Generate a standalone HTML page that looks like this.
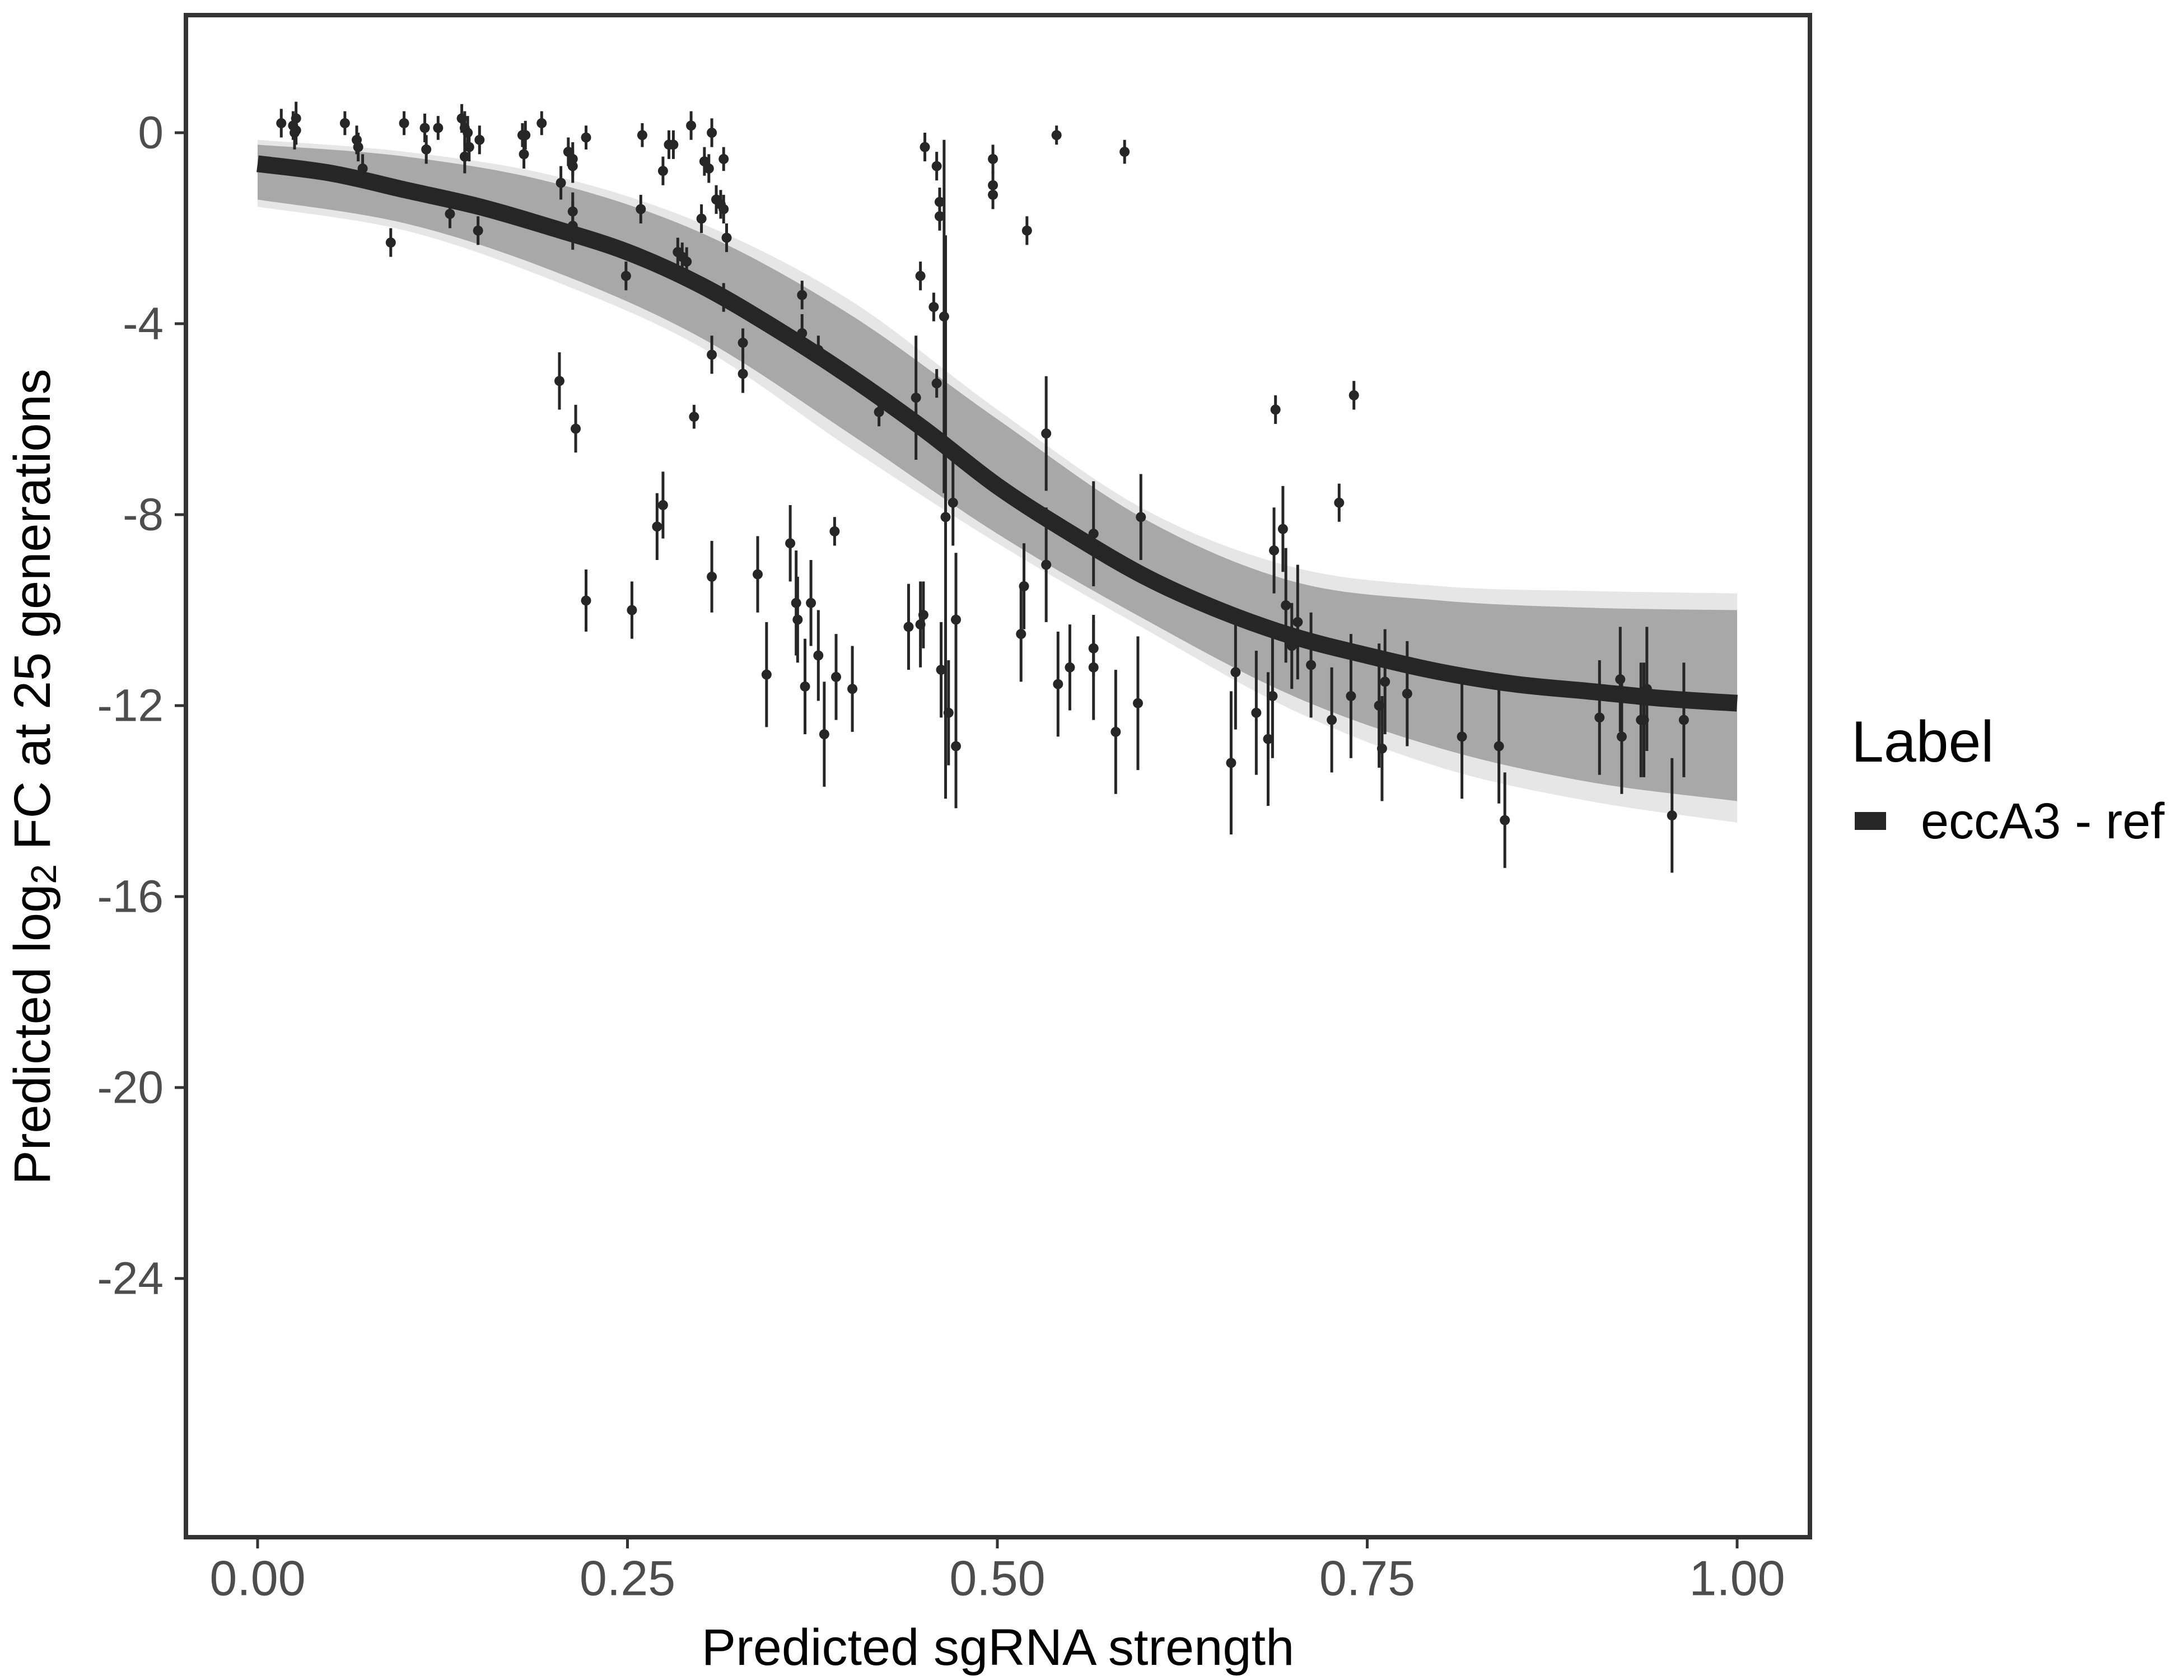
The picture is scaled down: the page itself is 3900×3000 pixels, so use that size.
<!DOCTYPE html>
<html><head><meta charset="utf-8"><style>
html,body{margin:0;padding:0;background:#fff;}
svg{display:block;font-family:"Liberation Sans",Arial,sans-serif;}
</style></head><body>
<svg id="chart" width="3900" height="3000" viewBox="0 0 3900 3000" xmlns="http://www.w3.org/2000/svg">
<rect width="3900" height="3000" fill="#fff"/>
<g id="ribbon"></g>
<g id="pts"></g>
<g id="line"></g>
<rect x="332" y="27" width="2900" height="2718" fill="none" stroke="#333" stroke-width="8"/>
<g id="axes"></g>
<text x="58" y="1387" transform="rotate(-90 58 1387)" text-anchor="middle" dominant-baseline="central" font-size="92" fill="#000">Predicted  log<tspan font-size="64" dy="20">2</tspan><tspan dy="-20"> FC at 25 generations</tspan></text>
<text x="1782" y="2942" text-anchor="middle" dominant-baseline="central" font-size="92" fill="#000">Predicted sgRNA strength</text>
<g>
<text x="3306" y="1325" dominant-baseline="central" font-size="104" fill="#000">Label</text>
<rect x="3312" y="1450" width="56" height="32" fill="#262626"/>
<text x="3430" y="1467" dominant-baseline="central" font-size="90" fill="#000">eccA3 - ref</text>
</g>
</svg>
<script>
const xTicks=[0,0.25,0.5,0.75,1];
const xTickLabels=["0.00","0.25","0.50","0.75","1.00"];
const yTicks=[0,-4,-8,-12,-16,-20,-24];
const yTickLabels=["0","-4","-8","-12","-16","-20","-24"];
const curveX=[0,0.05,0.1,0.15,0.2,0.25,0.3,0.35,0.4,0.45,0.5,0.55,0.6,0.65,0.7,0.75,0.8,0.85,0.9,0.95,1];
const curveY=[-0.65,-0.85,-1.2,-1.55,-2.0,-2.5,-3.2,-4.1,-5.1,-6.2,-7.4,-8.4,-9.3,-10.0,-10.55,-10.95,-11.3,-11.55,-11.7,-11.85,-11.95];
const bandX=[0,0.1,0.2,0.3,0.4,0.5,0.6,0.7,0.8,0.9,1];
const outerUp=[-0.15,-0.4,-0.9,-1.9,-3.5,-5.8,-7.9,-9.1,-9.5,-9.6,-9.65];
const outerLo=[-1.55,-2.05,-3.1,-4.5,-6.6,-8.6,-10.4,-12.1,-13.3,-14.0,-14.45];
const coreUp=[-0.25,-0.5,-1.05,-2.1,-3.8,-6.0,-8.1,-9.4,-9.8,-9.95,-10.0];
const coreLo=[-1.4,-1.9,-2.9,-4.3,-6.3,-8.4,-10.2,-11.8,-12.9,-13.6,-14.0];
const px=[.016,.024,.025,.026,.026,.059,.067,.068,.071,.09,.099,.113,.114,.122,.13,.138,.14,.142,.143,.14,.15,.149,.179,.181,.18,.192,.204,.205,.21,.213,.213,.213,.213,.215,.222,.222,.249,.253,.26,.259,.27,.274,.274,.278,.281,.284,.287,.29,.293,.295,.3,.302,.305,.307,.307,.307,.31,.313,.315,.315,.317,.315,.328,.328,.338,.344,.36,.364,.365,.368,.368,.37,.374,.379,.379,.383,.39,.391,.402,.42,.44,.445,.448,.45,.448,.451,.457,.459,.461,.461,.459,.462,.465,.464,.467,.47,.472,.472,.497,.497,.497,.516,.518,.52,.533,.533,.54,.541,.549,.565,.565,.565,.58,.586,.595,.597,.658,.661,.675,.683,.686,.687,.688,.693,.695,.699,.703,.712,.726,.731,.739,.741,.758,.76,.762,.777,.814,.839,.843,.907,.921,.922,.935,.937,.939,.956,.964];
const py=[.2,.15,0,.3,.05,.2,-.15,-.3,-.75,-2.3,.2,.1,-.35,.1,-1.7,.3,.1,0,-.3,-.5,-.15,-2.05,-.05,-.05,-.45,.2,-5.2,-1.05,-.4,-.55,-.7,-1.65,-1.95,-6.2,-.1,-9.8,-3.0,-10.0,-.05,-1.6,-8.25,-7.8,-.8,-.25,-.25,-2.5,-2.6,-2.7,.15,-5.95,-1.8,-.6,-.75,0,-4.65,-9.3,-1.4,-1.5,-1.6,-.55,-2.2,-3.45,-4.4,-5.05,-9.25,-11.35,-8.6,-9.85,-10.2,-3.4,-4.2,-11.6,-9.85,-4.55,-10.95,-12.6,-8.35,-11.4,-11.65,-5.85,-10.35,-5.55,-10.3,-10.1,-3.0,-.3,-3.65,-.7,-1.75,-1.45,-5.25,-11.25,-8.05,-3.85,-12.15,-7.75,-12.85,-10.2,-.55,-1.1,-1.3,-10.5,-9.5,-2.05,-6.3,-9.05,-.05,-11.55,-11.2,-10.8,-11.2,-8.4,-12.55,-.4,-11.95,-8.05,-13.2,-11.3,-12.15,-12.7,-11.8,-8.75,-5.8,-8.3,-9.9,-10.75,-10.25,-11.15,-12.3,-7.75,-11.8,-5.5,-12.0,-12.9,-11.5,-11.75,-12.65,-12.85,-14.4,-12.25,-11.45,-12.65,-12.3,-12.3,-11.65,-14.3,-12.3];
const perr=[.3,.3,.35,.35,.3,.25,.3,.3,.3,.3,.25,.3,.3,.25,.3,.3,.35,.35,.3,.35,.3,.3,.25,.3,.3,.25,.6,.35,.3,.35,.35,.4,.5,.5,.25,.65,.3,.6,.25,.3,.7,.7,.3,.3,.3,.3,.3,.3,.3,.25,.3,.3,.3,.3,.4,.75,.3,.3,.3,.25,.3,.3,.3,.4,.8,1.1,.8,1.1,.9,.3,.4,1.0,.9,.3,.95,1.1,.3,.9,.9,.3,.9,1.3,.9,.7,.3,.3,.3,.3,.3,.3,.3,1.0,5.9,3.7,1.1,.9,1.3,1.4,.3,.3,.3,1.0,.9,.3,1.2,1.2,.2,1.1,.9,.6,1.1,1.1,1.3,.25,1.4,.9,1.5,1.2,1.3,1.4,1.3,.9,.3,.9,1.2,.9,1.2,1.1,1.1,.4,1.3,.3,1.3,1.1,1.1,1.1,1.3,1.2,1.0,1.2,1.1,1.2,1.2,1.2,1.3,1.2,1.2];

const NS='http://www.w3.org/2000/svg';
const X0=460,XS=2642,Y0=237,YS=85.25;
function sx(v){return X0+v*XS;}
function sy(v){return Y0-v*YS;}
function smooth(xs,ys){
  const p=xs.map((x,i)=>[sx(x),sy(ys[i])]);
  let d='M'+p[0][0]+','+p[0][1];
  for(let i=0;i<p.length-1;i++){
    const a=p[Math.max(0,i-1)],b=p[i],c=p[i+1],e=p[Math.min(p.length-1,i+2)];
    const c1=[b[0]+(c[0]-a[0])/6,b[1]+(c[1]-a[1])/6],c2=[c[0]-(e[0]-b[0])/6,c[1]-(e[1]-b[1])/6];
    d+=' C'+c1[0]+','+c1[1]+' '+c2[0]+','+c2[1]+' '+c[0]+','+c[1];
  }
  return d;
}
function bandPath(up,lo){
  const d1=smooth(bandX,up);
  const rx=bandX.slice().reverse(),rl=lo.slice().reverse();
  const d2=smooth(rx,rl).replace(/^M/,' L');
  return d1+d2+' Z';
}
const rib=document.getElementById('ribbon');
const o=document.createElementNS(NS,'path');
o.setAttribute('d',bandPath(outerUp,outerLo));
o.setAttribute('fill','#e6e6e6');


rib.appendChild(o);
const c=document.createElementNS(NS,'path');
c.setAttribute('d',bandPath(coreUp,coreLo));
c.setAttribute('fill','#a8a8a8');


rib.appendChild(c);

const pts=document.getElementById('pts');
for(let i=0;i<px.length;i++){
  const l=document.createElementNS(NS,'line');
  l.setAttribute('x1',sx(px[i]));l.setAttribute('x2',sx(px[i]));
  l.setAttribute('y1',sy(py[i]+perr[i]));l.setAttribute('y2',sy(py[i]-perr[i]));
  l.setAttribute('stroke','#262626');l.setAttribute('stroke-width','5');
  
  
  pts.appendChild(l);
  const ci=document.createElementNS(NS,'circle');
  ci.setAttribute('cx',sx(px[i]));ci.setAttribute('cy',sy(py[i]));ci.setAttribute('r','9');
  ci.setAttribute('fill','#262626');
  
  
  pts.appendChild(ci);
}
const ln=document.createElementNS(NS,'path');
ln.setAttribute('d',smooth(curveX,curveY));
ln.setAttribute('fill','none');ln.setAttribute('stroke','#262626');ln.setAttribute('stroke-width','30');


document.getElementById('line').appendChild(ln);

const ax=document.getElementById('axes');
xTicks.forEach((v,i)=>{
  const t=document.createElementNS(NS,'line');
  t.setAttribute('x1',sx(v));t.setAttribute('x2',sx(v));t.setAttribute('y1',2749);t.setAttribute('y2',2765);
  t.setAttribute('stroke','#333');t.setAttribute('stroke-width','5');
  
  
  ax.appendChild(t);
  const tx=document.createElementNS(NS,'text');
  tx.setAttribute('x',sx(v));tx.setAttribute('y',2818);
  tx.setAttribute('text-anchor','middle');tx.setAttribute('dominant-baseline','central');
  tx.setAttribute('font-size','88');tx.setAttribute('fill','#4d4d4d');
  
  
  tx.textContent=xTickLabels[i];
  ax.appendChild(tx);
});
yTicks.forEach((v,i)=>{
  const t=document.createElementNS(NS,'line');
  t.setAttribute('x1',312);t.setAttribute('x2',328);t.setAttribute('y1',sy(v));t.setAttribute('y2',sy(v));
  t.setAttribute('stroke','#333');t.setAttribute('stroke-width','5');
  
  
  ax.appendChild(t);
  const tx=document.createElementNS(NS,'text');
  tx.setAttribute('x',292);tx.setAttribute('y',sy(v));
  tx.setAttribute('text-anchor','end');tx.setAttribute('dominant-baseline','central');
  tx.setAttribute('font-size','82');tx.setAttribute('fill','#4d4d4d');
  
  
  tx.textContent=yTickLabels[i];
  ax.appendChild(tx);
});
</script>
</body></html>
